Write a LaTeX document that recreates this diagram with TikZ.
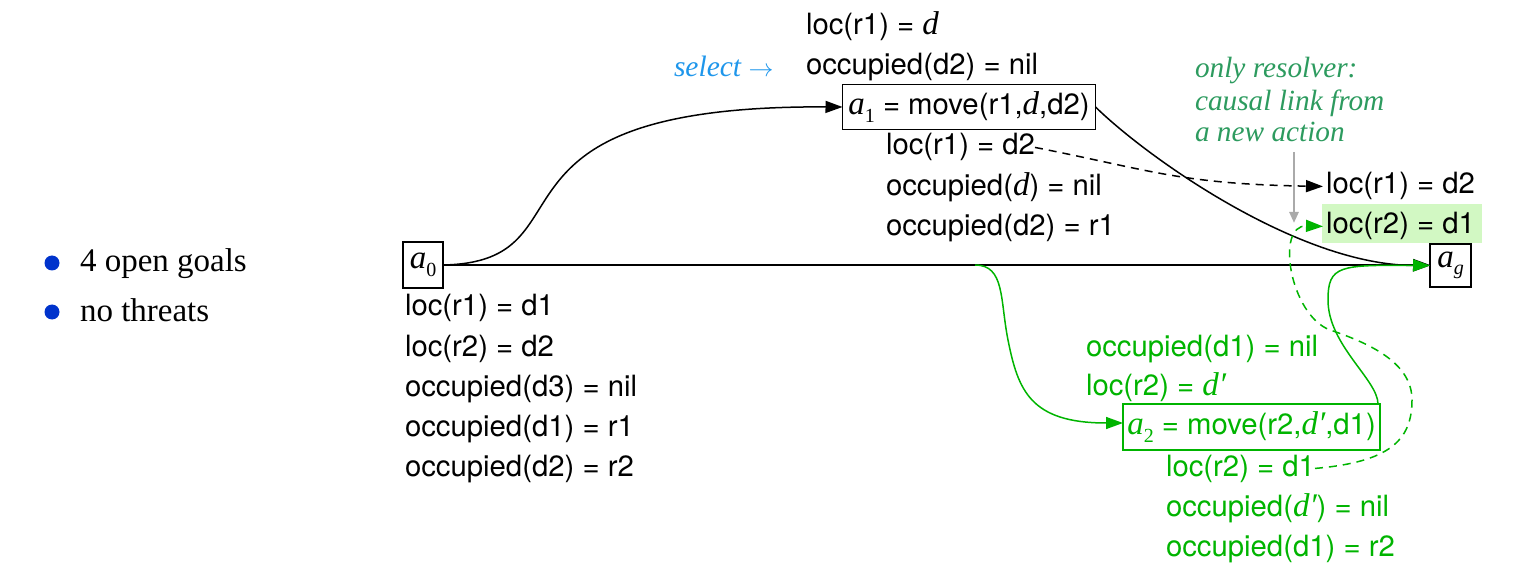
\documentclass[tikz,border=0pt]{standalone}
\usepackage{fontspec}
\setmainfont{TeX Gyre Heros}
\newfontfamily\tms{Liberation Serif}
\usetikzlibrary{arrows.meta}

\definecolor{selblue}{RGB}{30,150,235}
\definecolor{notegreen}{RGB}{45,155,95}
\definecolor{agreen}{RGB}{0,180,0}
\definecolor{hlgreen}{RGB}{210,248,195}
\definecolor{bulblue}{RGB}{0,51,204}
\definecolor{arrowgray}{RGB}{170,170,170}

% italic variable in serif, and action symbols a_i
\newcommand\vv[1]{{\tms\itshape\fontsize{33}{33}\selectfont #1}}
\newcommand\asub[1]{\vv{a}\raisebox{-7.5pt}{\tms\fontsize{20}{20}\selectfont #1}}

\tikzset{
  every node/.style={inner sep=0pt, outer sep=0pt},
  lbl/.style={anchor=base west, font=\fontsize{29.3}{35}\selectfont},
  note/.style={anchor=base west, text=notegreen, font=\tms\itshape\fontsize{29.3}{32}\selectfont},
  bul/.style={anchor=base west, font=\tms\fontsize{33}{40}\selectfont},
  actbox/.style={draw, line width=1.6pt, font=\fontsize{29.3}{35}\selectfont},
  tip/.style={-{Triangle[length=17pt,width=12pt]}},
  link/.style={tip, line width=1.5pt},
  dlink/.style={link, dash pattern=on 8pt off 6pt},
}

\begin{document}
\begin{tikzpicture}[x=1pt,y=-1pt]
\useasboundingbox (0,0) rectangle (1527,572);

% summary bullets
\fill[bulblue] (52,263) circle (7.5);
\fill[bulblue] (52,312) circle (7.5);
\node[bul] (b1) at (80,272) {4 open goals};
\node[bul] (b2) at (80,321) {no threats};

% actions
\node[actbox, minimum width=40pt, minimum height=46pt] (a0) at (423,265) {\asub{0}};
\node[actbox, minimum width=41pt, minimum height=43pt] (ag) at (1450.5,265.5) {\asub{\itshape g}};
\node[actbox, minimum width=253pt, minimum height=45pt] (a1) at (969,107) {\asub{1} = move(r1,\vv{d},d2)};
\node[actbox, draw=agreen, text=agreen, minimum width=257pt, minimum height=46pt] (a2) at (1251.5,427) {\asub{2} = move(r2,\vv{d′},d1)};

% initial state
\node[lbl] (s1) at (405,316) {loc(r1) = d1};
\node[lbl] (s2) at (405,356) {loc(r2) = d2};
\node[lbl] (s3) at (405,396) {occupied(d3) = nil};
\node[lbl] (s4) at (405,436) {occupied(d1) = r1};
\node[lbl] (s5) at (405,476) {occupied(d2) = r2};

% a1 preconditions and effects
\node[lbl, text=selblue, font=\tms\itshape\fontsize{29.5}{35}\selectfont] (sel) at (674,77) {select $\rightarrow$};
\node[lbl] (p11) at (806,35) {loc(r1) = \vv{d}};
\node[lbl] (p12) at (806,75) {occupied(d2) = nil};
\node[lbl] (e11) at (886,155) {loc(r1) = d2};
\node[lbl] (e12) at (886,196) {occupied(\vv{d}) = nil};
\node[lbl] (e13) at (886,236) {occupied(d2) = r1};

% open goals
\fill[hlgreen] (1322,204) rectangle (1482,243);
\node[lbl] (g1) at (1326,194) {loc(r1) = d2};
\node[lbl] (g2) at (1326,234) {loc(r2) = d1};

% note on the resolver
\node[note] (n1) at (1195,78) {only resolver:};
\node[note] (n2) at (1195,111) {causal link from};
\node[note] (n3) at (1195,142) {a new action};

% a2 preconditions and effects
\begin{scope}[every node/.append style={text=agreen}]
\node[lbl] (p21) at (1086,356) {occupied(d1) = nil};
\node[lbl] (p22) at (1086,395) {loc(r2) = \vv{d′}};
\node[lbl] (e21) at (1166,476) {loc(r2) = d1};
\node[lbl] (e22) at (1166,516) {occupied(\vv{d′}) = nil};
\node[lbl] (e23) at (1166,556) {occupied(d1) = r2};
\end{scope}

% ordering / causal links
\draw[link] (a0.east) -- (a0.east -| ag.west);
\draw[link] (a0.east) .. controls (600,262) and (460,105) .. (a1.west);
\draw[link] (a1.east) .. controls (1150,160) and (1300,265) .. (ag.west);
\draw[dlink] (e11.east) .. controls (1150,170) and (1180,184) .. ([xshift=-3pt]g1.west);

% pointer from the note
\coordinate (q1) at (1294,152);
\coordinate (q2) at (1294,223);
\draw[arrowgray, line width=2.5pt, -{Triangle[length=11pt,width=9pt]}] (q1) -- (q2);

% new action a2 and its links
\coordinate (tap) at (975,265);
\draw[link, agreen] (tap) .. controls (1005,265) and (1000,300) .. (1008,340)
  .. controls (1018,390) and (1030,423) .. ([yshift=4pt]a2.west);
\draw[link, agreen] ([xshift=-2pt]a2.north east) .. controls (1378,380) and (1328,345) .. (1328,300)
  .. controls (1328,265) and (1340,265) .. (ag.west);
\draw[dlink, agreen] (e21.east) .. controls (1390,462) and (1412,440) .. (1412,400)
  .. controls (1412,365) and (1375,345) .. (1330,330)
  .. controls (1290,315) and (1275,225) .. ([xshift=-3pt]g2.west);
\end{tikzpicture}
\end{document}
